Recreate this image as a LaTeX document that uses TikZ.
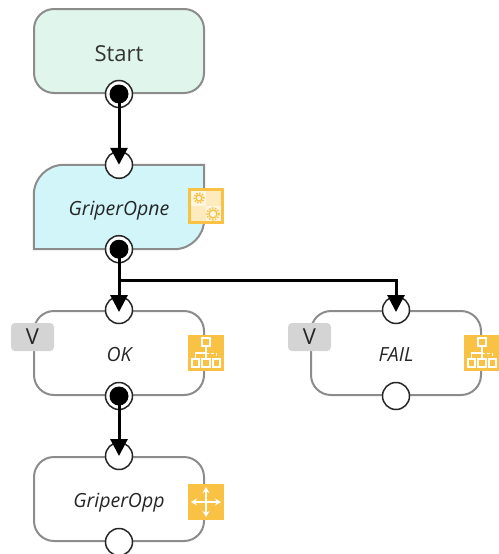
\documentclass[tikz,border=0pt]{standalone}
\usepackage{fontspec}
\setmainfont{Open Sans}
\usetikzlibrary{positioning, arrows.meta, backgrounds}
\definecolor{boxLine}{HTML}{8C8C8C}
\definecolor{iconFill}{HTML}{F9C244}
\definecolor{startFill}{HTML}{E0F6EC}
\definecolor{opneFill}{HTML}{D2F5F9}
\tikzset{
    >={Triangle[length=17pt, width=17pt]}, % makes the arrow heads bold
    node distance=146pt,
    labelText/.style={minimum width=170pt, minimum height=84pt, text height=21pt, text depth=4pt, font=\fontsize{19.5}{22}\selectfont\itshape, text=black!85},
    every box/.style={labelText, draw=boxLine, line width=2pt, rounded corners=20pt},
    portIn/.style={circle, draw=black!85, line width=1.5pt, fill=white, minimum size=27pt, inner sep=0pt},
    portOut/.style={portIn, path picture={\fill[black] (path picture bounding box.center) circle (9.5pt);}},
    badgeV/.style={fill=black!17, rounded corners=4pt, minimum width=43pt, minimum height=28pt, inner sep=0pt, font=\fontsize{22}{24}\selectfont, text=black!85},
    iconBox/.style={fill=iconFill, minimum size=36pt, inner sep=0pt},
    link/.style={line width=3pt, black},
    treeIcon/.pic={
        \draw[white, line width=1.5pt] (-4,7) rectangle (4,15) (-14,-14) rectangle (-7,-6) (-4,-14) rectangle (4,-6) (7,-14) rectangle (14,-6);
        \draw[white, line width=1.2pt] (0,7) -- (0,0) (-10.5,-6) -- (-10.5,0) -- (0,0) (0,0) -- (0,-6);
        \draw[white, line width=.8pt, densely dashed] (0,0) -- (10.5,0) -- (10.5,-6);
    },
    moveIcon/.pic={
        \draw[white, line width=1.6pt, {Stealth[length=6pt, width=7pt]}-{Stealth[length=6pt, width=7pt]}] (-15,0) -- (15,0);
        \draw[white, line width=1.6pt, {Stealth[length=6pt, width=7pt]}-{Stealth[length=6pt, width=7pt]}] (0,-15) -- (0,15);
    },
    gearIcon/.pic={
        \fill[white!65!iconFill] (-16,-16) rectangle (16,16);
        \fill[white!85!iconFill] (-16,0) rectangle (0,16) (0,-16) rectangle (16,0);
        \draw[iconFill, line width=1.4pt] (-7,8) circle (3pt) (7,-8) circle (4pt);
        \draw[iconFill, line width=1.5pt, dash pattern=on 1.5pt off 1.5pt] (-7,8) circle (5pt) (7,-8) circle (6pt);
        \draw[iconFill, line width=3pt] (-16.5,-16.5) rectangle (16.5,16.5);
    },
}
\begin{document}
\begin{tikzpicture}[x=1pt, y=1pt]
    \useasboundingbox (0,0) rectangle (498,-554);
    % boxes
    \node[every box, fill=startFill, text height=24pt, font=\fontsize{22}{24}\selectfont, text=black!80] (startBox) at (119,-51) {Start};
    \node[labelText, below of=startBox, node distance=156pt] (opneBox) {GriperOpne};
    \node[every box, below of=opneBox] (okBox) {OK};
    \node[every box, right of=okBox, node distance=277pt] (failBox) {FAIL};
    \node[every box, below of=okBox] (oppBox) {GriperOpp};
    \begin{scope}[on background layer]
        \draw[boxLine, line width=2pt, fill=opneFill] [rounded corners=30pt] (opneBox.west) |- (opneBox.north) [sharp corners] -| (opneBox.east) [rounded corners=30pt] |- (opneBox.south) [sharp corners] -| cycle;
    \end{scope}
    % ports
    \node[portOut] (startOut) at (startBox.south) {};
    \node[portIn] (opneIn) at (opneBox.north) {};
    \node[portOut] (opneOut) at (opneBox.south) {};
    \node[portIn] (okIn) at (okBox.north) {};
    \node[portOut] (okOut) at (okBox.south) {};
    \node[portIn] (failIn) at (failBox.north) {};
    \node[portIn] (failOut) at (failBox.south) {};
    \node[portIn] (oppIn) at (oppBox.north) {};
    \node[portIn] (oppOut) at (oppBox.south) {};
    % badges and icons
    \node[badgeV] (okV) at ([xshift=-86.5pt, yshift=16pt]okBox.center) {V};
    \node[badgeV] (failV) at ([xshift=-86.5pt, yshift=16pt]failBox.center) {V};
    \node[iconBox] (opneIcon) at ([xshift=87pt, yshift=1pt]opneBox.center) {};
    \node[iconBox] (okIcon) at ([xshift=87pt]okBox.center) {};
    \node[iconBox] (failIcon) at ([xshift=86pt]failBox.center) {};
    \node[iconBox] (oppIcon) at ([xshift=87pt, yshift=-3pt]oppBox.center) {};
    \pic at (opneIcon) {gearIcon};
    \pic at (okIcon) {treeIcon};
    \pic at (failIcon) {treeIcon};
    \pic at (oppIcon) {moveIcon};
    % links
    \coordinate[below=31pt of opneOut.center] (branch);
    \draw[link]
    (startOut.center) edge[->] (opneIn.center)
    (opneOut.center) edge[->, shorten >=-2pt] (okIn.center)
    (okOut.center) edge[->] (oppIn.center);
    \draw[link, ->, shorten >=-2pt] (branch) -| (failIn.center);
\end{tikzpicture}
\end{document}
